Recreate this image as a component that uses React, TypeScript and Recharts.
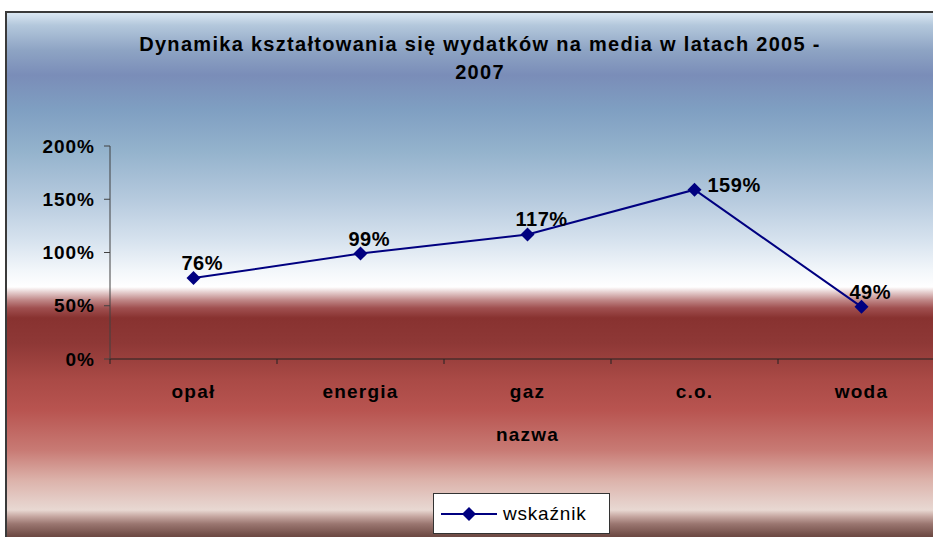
import React from "react";
import { LineChart, Line, XAxis, YAxis, Legend, LabelList } from "recharts";

const categories = ["opał", "energia", "gaz", "c.o.", "woda"];
const wskaznik = [76, 99, 117, 159, 49];
const yTicks = [0, 50, 100, 150, 200];

const chartData = categories.map((nazwa, i) => ({ nazwa, wskaznik: wskaznik[i] }));

const CHART_W = 960;
const CHART_H = 560;
const MARGIN = { top: 133, right: 22, left: 0, bottom: 114 };
const Y_AXIS_W = 103;
const STEP = (CHART_W - MARGIN.left - MARGIN.right - Y_AXIS_W) / categories.length;

const NAVY = "#000080";
const FONT = "'Liberation Sans', Arial, sans-serif";
const peakIndex = wskaznik.indexOf(Math.max(...wskaznik));

const background = `linear-gradient(to bottom,
  #dae7f2 0px, #b4c8dc 12px, #8ea4c4 37px, #7a8db8 62px, #7f9fc2 97px,
  #93b2cc 137px, #b6cade 187px, #d6e2ee 227px, #f2f6fa 257px, #ffffff 274px,
  #e6d0d0 279px, #c08888 287px, #a05050 295px, #883230 305px, #8e3836 330px,
  #aa4a46 367px, #b85450 397px, #c87a74 437px, #dcb2aa 467px, #e4ccc6 487px,
  #e8d8d2 497px, #c8aaa4 503px, #9a7670 511px, #6e4a44 523px)`;

const Diamond = (props: any) => {
  const { cx, cy, index } = props;
  const r = 7;
  return (
    <path
      key={`d-${index}`}
      d={`M${cx},${cy - r}L${cx + r},${cy}L${cx},${cy + r}L${cx - r},${cy}Z`}
      fill={NAVY}
    />
  );
};

const renderLabel = (props: any) => {
  const { x, y, value, index } = props;
  // Excel parked the peak label beside the point, the rest sit above-left
  const side = index === peakIndex;
  return (
    <text
      x={side ? x + 13 : x - 12}
      y={side ? y + 2 : y - 8}
      fontSize={20}
      fontWeight="bold"
      letterSpacing={0.5}
      fill="#000"
      fontFamily={FONT}
    >
      {value}%
    </text>
  );
};

const CategoryTick = (props: any) => {
  const { x, y, payload, index } = props;
  const left = x - STEP / 2;
  return (
    <g>
      <line x1={left} x2={left} y1={y} y2={y + 5} stroke="#222" />
      {index === categories.length - 1 && (
        <line x1={x + STEP / 2} x2={x + STEP / 2} y1={y} y2={y + 5} stroke="#222" />
      )}
      <text
        x={x}
        y={y + 39}
        textAnchor="middle"
        fontSize={19}
        fontWeight="bold"
        letterSpacing={1.2}
        fill="#000"
        fontFamily={FONT}
      >
        {payload.value}
      </text>
    </g>
  );
};

const LegendBox = () => (
  <div
    style={{
      width: 175,
      height: 39,
      background: "#fff",
      border: "1px solid #333",
      display: "flex",
      alignItems: "center",
      fontFamily: FONT,
      fontSize: 19,
      color: "#000",
    }}
  >
    <svg width={62} height={20} style={{ marginLeft: 7 }}>
      <line x1={0} x2={56} y1={10} y2={10} stroke={NAVY} strokeWidth={2} />
      <path d="M28,3L35,10L28,17L21,10Z" fill={NAVY} />
    </svg>
    <span style={{ letterSpacing: 0.8 }}>wskaźnik</span>
  </div>
);

export default function App() {
  return (
    <div
      style={{
        position: "absolute",
        left: 0,
        top: 0,
        width: 933,
        height: 537,
        overflow: "hidden",
        background: "#fff",
      }}
    >
      <div
        style={{
          position: "absolute",
          left: 5,
          top: 11,
          width: CHART_W,
          height: CHART_H,
          border: "2px solid #3a3a3a",
          background,
        }}
      >
        <div
          style={{
            position: "absolute",
            left: 0,
            top: 17,
            width: 946,
            textAlign: "center",
            fontFamily: FONT,
            fontWeight: "bold",
            fontSize: 20,
            lineHeight: "28px",
            letterSpacing: 1.3,
            color: "#000",
          }}
        >
          Dynamika kształtowania się wydatków na media w latach 2005 -
          <br />
          2007
        </div>
        <LineChart
          width={CHART_W}
          height={CHART_H}
          data={chartData}
          margin={MARGIN}
          style={{ position: "absolute", left: 0, top: 0, fontFamily: FONT }}
        >
          <XAxis
            dataKey="nazwa"
            height={100}
            padding={{ left: STEP / 2, right: STEP / 2 }}
            tickLine={false}
            tickSize={0}
            tickMargin={0}
            axisLine={{ stroke: "#222" }}
            tick={<CategoryTick />}
            interval={0}
            label={({ viewBox }: any) => (
              <text
                x={viewBox.x + viewBox.width / 2}
                y={viewBox.y + 82}
                textAnchor="middle"
                fontSize={19}
                fontWeight="bold"
                letterSpacing={1.2}
                fill="#000"
                fontFamily={FONT}
              >
                nazwa
              </text>
            )}
          />
          <YAxis
            width={Y_AXIS_W}
            domain={[0, 200]}
            ticks={yTicks}
            tickFormatter={(v) => `${v}%`}
            tickSize={6}
            tickMargin={9}
            axisLine={{ stroke: "#404040" }}
            tickLine={{ stroke: "#404040" }}
            tick={{ fill: "#000", fontSize: 19, fontWeight: "bold", letterSpacing: 1 }}
          />
          <Legend
            layout="horizontal"
            verticalAlign="middle"
            align="center"
            content={() => <LegendBox />}
            wrapperStyle={{ position: "absolute", left: 426, top: 480, width: "auto" }}
          />
          <Line
            type="linear"
            dataKey="wskaznik"
            name="wskaźnik"
            stroke={NAVY}
            strokeWidth={2}
            dot={Diamond}
            activeDot={false}
            isAnimationActive={false}
          >
            <LabelList dataKey="wskaznik" content={renderLabel} />
          </Line>
        </LineChart>
      </div>
    </div>
  );
}
